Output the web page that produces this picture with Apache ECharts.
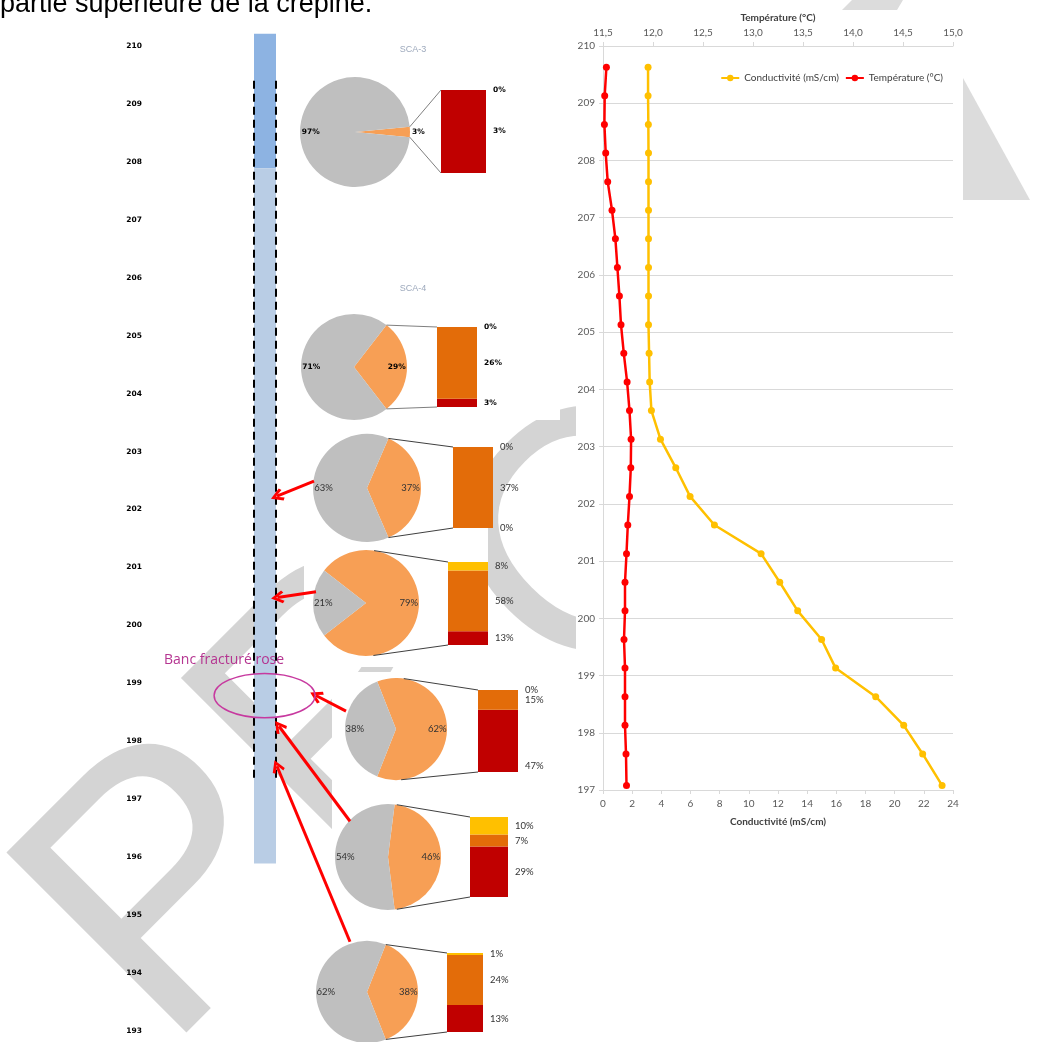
<!DOCTYPE html>
<html>
<head>
<meta charset="utf-8">
<script src="https://cdn.jsdelivr.net/npm/echarts@6/dist/echarts.min.js"></script>
<style>
  html, body { margin: 0; padding: 0; background: #fff; }
  #chart { width: 1051px; height: 1042px; }
</style>
</head>
<body>
<div id="chart"></div>
<script>
// ---- Log profile: elevation (m NGF), conductivity (mS/cm), temperature (°C)
const profileElev = [209.63, 209.13, 208.63, 208.13, 207.63, 207.13, 206.63, 206.13, 205.63,
  205.13, 204.63, 204.13, 203.63, 203.13, 202.63, 202.13, 201.63, 201.13, 200.63, 200.13,
  199.63, 199.13, 198.63, 198.13, 197.63, 197.08];
const conductivity = [3.09, 3.09, 3.11, 3.12, 3.12, 3.12, 3.12, 3.12, 3.12, 3.12, 3.16, 3.2,
  3.32, 3.94, 4.99, 5.97, 7.64, 10.84, 12.12, 13.35, 14.99, 15.95, 18.7, 20.62, 21.92, 23.25];
const temperature = [11.534, 11.517, 11.514, 11.527, 11.547, 11.59, 11.624, 11.644, 11.664,
  11.68, 11.708, 11.741, 11.765, 11.781, 11.778, 11.765, 11.748, 11.735, 11.72, 11.72,
  11.71, 11.72, 11.72, 11.72, 11.73, 11.735];

// ---- Borehole column (elevations)
const tubeElev = [210.21, 207.89, 195.89];     // tube top, end of blank casing, tube bottom
const screenElev = [209.4, 197.35];            // dashed screen limits
const fractureLabel = 'Banc fracturé rose';

// ---- Sample composition: pie share and detail of the orange share
const pieTitles = ['SCA-3', 'SCA-4', '', '', '', '', ''];
const greyShare = [97, 71, 63, 21, 38, 54, 62];
const orangeShare = [3, 29, 37, 79, 62, 46, 38];
const yellowPart = [0, 0, 0, 8, 0, 10, 1];
const orangePart = [0, 26, 37, 58, 15, 7, 24];
const redPart = [3, 3, 0, 13, 47, 29, 13];

// ---- Sample arrows: [x, elevation] start and end on the column
const arrowLinks = [
  [[314, 202.49], [277, 202.23]],
  [[316, 200.58], [277.5, 200.48]],
  [[346, 198.52], [316, 198.79]],
  [[350, 196.62], [279, 198.26]],
  [[350, 194.54], [277, 197.57]]
];

// ---- Page layout (pixels)
const colLeft = 150, colRight = 560, colTop = 46, colBottom = 1031;
const elevMin = 193, elevMax = 210;
const tubeX = [254, 276];
const pieLayout = [
  { cx: 355, cy: 132, r: 55, bar: [441, 90, 45, 83], bold: true },
  { cx: 354, cy: 367, r: 53, bar: [437, 327, 40, 80], bold: true },
  { cx: 367, cy: 488, r: 54, bar: [453, 447, 40, 81] },
  { cx: 366, cy: 603, r: 53, bar: [448, 562, 40, 83] },
  { cx: 396, cy: 729, r: 51, bar: [478, 690, 40, 82] },
  { cx: 388, cy: 857, r: 53, bar: [470, 817, 38, 80] },
  { cx: 367, cy: 992, r: 51, bar: [447, 953, 36, 79] }
];
const titlePos = [[413, 50], [413, 289]];
// white panels behind the pie pictures and the profile plot
const panels = [[290, 36, 270, 384], [304, 420, 184, 247], [332, 672, 228, 370], [576, 0, 384, 832]];
// light watermark fragments around the profile plot
const wmFragments = [
  [[842, 10], [897, 10], [903, 0], [852, 0]],
  [[963, 78], [1030, 200], [963, 200]]
];

const C_GREY = '#BFBFBF', C_SLICE = '#F79F55', C_YEL = '#FFC000', C_ORA = '#E36C09', C_RED = '#C00000';

const grids = [], xAxes = [], yAxes = [], series = [], graphics = [];

// Column grid: x in page pixels, y in elevation
grids.push({ left: colLeft, top: colTop, width: colRight - colLeft, height: colBottom - colTop });
xAxes.push({ type: 'value', gridIndex: 0, min: colLeft, max: colRight, show: false });
yAxes.push({
  type: 'value', gridIndex: 0, min: elevMin, max: elevMax, interval: 1,
  axisLine: { show: false }, axisTick: { show: false }, splitLine: { show: false },
  axisLabel: { color: '#000', fontFamily: 'DejaVu Sans', fontWeight: 'bold', fontSize: 7.5, margin: 8 }
});

// Tube: darker blank casing on top, lighter below
series.push({
  type: 'custom', xAxisIndex: 0, yAxisIndex: 0, silent: true, z: 3,
  data: [[tubeElev[0], tubeElev[1]], [tubeElev[1], tubeElev[2]]],
  renderItem: function (params, api) {
    const a = api.coord([tubeX[0], api.value(0)]);
    const b = api.coord([tubeX[1], api.value(1)]);
    return {
      type: 'rect',
      shape: { x: a[0], y: a[1], width: b[0] - a[0], height: b[1] - a[1] },
      style: { fill: params.dataIndex === 0 ? '#8DB3E2' : '#B9CDE5' }
    };
  }
});
// Screen limits (dashed)
tubeX.forEach(function (x) {
  series.push({
    type: 'line', xAxisIndex: 0, yAxisIndex: 0, silent: true, z: 4, symbol: 'none',
    data: [[x, screenElev[0]], [x, screenElev[1]]],
    lineStyle: { color: '#000', width: 2, type: [8, 5] }
  });
});
// Red arrows
series.push({
  type: 'lines', coordinateSystem: 'cartesian2d', xAxisIndex: 0, yAxisIndex: 0, silent: true, z: 6,
  symbol: ['none', 'path://M5,0 L10,8.5 L8.2,10 L5,4 L1.8,10 L0,8.5 Z'], symbolSize: 13,
  lineStyle: { color: '#FF0000', width: 3, opacity: 1 },
  data: arrowLinks.map(function (l) { return { coords: l }; })
});

// Pies and bar-of-pie columns
pieLayout.forEach(function (p, i) {
  const f = orangeShare[i] / 100;
  const lblFont = p.bold
    ? { fontFamily: 'DejaVu Sans', fontWeight: 'bold', fontSize: 7.5, color: '#000' }
    : { fontFamily: 'Lato', fontSize: 9.5, color: '#333' };
  const pieData = [
    { name: 'o', value: orangeShare[i], itemStyle: { color: C_SLICE } },
    { name: 'g', value: greyShare[i], itemStyle: { color: C_GREY } }
  ];
  series.push({
    type: 'pie', center: [p.cx, p.cy], radius: p.r, startAngle: f * 180, clockwise: true,
    silent: true, z: 3, label: { show: false }, labelLine: { show: false },
    itemStyle: { borderWidth: 0 }, data: pieData
  });
  // label ring: places the percentages at about 3/4 of the radius
  const lblData = pieData.map(function (d, k) {
    const item = { name: d.name, value: d.value, itemStyle: { color: 'rgba(0,0,0,0)' } };
    if (k === 0 && f < 0.1) {
      item.label = { position: 'outside', distanceToLabelLine: 2 };
      item.labelLine = { show: false, length: 0, length2: 0 };
    }
    return item;
  });
  series.push({
    type: 'pie', center: [p.cx, p.cy], radius: [p.r * 0.5, p.r], startAngle: f * 180, clockwise: true,
    silent: true, z: 5, avoidLabelOverlap: false,
    label: Object.assign({ show: true, position: 'inside', formatter: '{c}%' }, lblFont),
    labelLine: { show: false }, itemStyle: { borderWidth: 0 }, data: lblData
  });

  // stacked column for the orange share
  const gi = grids.length;
  const total = yellowPart[i] + orangePart[i] + redPart[i];
  grids.push({ left: p.bar[0], top: p.bar[1], width: p.bar[2], height: p.bar[3] });
  xAxes.push({ type: 'category', gridIndex: gi, data: ['d'], show: false });
  yAxes.push({ type: 'value', gridIndex: gi, min: 0, max: total, show: false });
  const parts = [[redPart, C_RED], [orangePart, C_ORA], [yellowPart, C_YEL]];
  parts.forEach(function (pc, k) {
    const v = pc[0][i];
    const item = { value: v };
    if (i === 0 && k === 1) item.label = { show: false };
    if (i === 4 && k === 0) item.label = { offset: [0, 25] };
    series.push({
      type: 'bar', xAxisIndex: gi, yAxisIndex: gi, stack: 'mix' + i, barWidth: '100%',
      silent: true, z: 3, itemStyle: { color: pc[1] },
      label: Object.assign({ show: true, position: 'right', distance: 7, formatter: '{c}%' }, lblFont),
      data: [item]
    });
  });

  // connector lines from the pie to the column
  function edgePoint(px, py, upper) {
    const dx = px - p.cx, dy = p.cy - py;
    const d = Math.hypot(dx, dy), phi = Math.atan2(dy, dx), t = Math.acos(p.r / d);
    const half = f * Math.PI;
    const ang = upper ? Math.min(half, phi + t) : Math.max(-half, phi - t);
    return [p.cx + p.r * Math.cos(ang), p.cy - p.r * Math.sin(ang)];
  }
  const tl = [p.bar[0], p.bar[1]], bl = [p.bar[0], p.bar[1] + p.bar[3]];
  const e1 = edgePoint(tl[0], tl[1], true), e2 = edgePoint(bl[0], bl[1], false);
  [[e1, tl], [e2, bl]].forEach(function (seg) {
    graphics.push({
      type: 'line', z: 4, silent: true,
      shape: { x1: seg[0][0], y1: seg[0][1], x2: seg[1][0], y2: seg[1][1] },
      style: { stroke: p.bold ? '#7f7f7f' : '#404040', lineWidth: 1 }
    });
  });
});

pieTitles.forEach(function (t, i) {
  if (!t) return;
  graphics.push({
    type: 'text', z: 4, silent: true, x: titlePos[i][0], y: titlePos[i][1],
    style: { text: t, fill: '#9DA9BC', font: '9px "Liberation Sans Narrow", "Liberation Sans"', align: 'center', verticalAlign: 'middle' }
  });
});

// Fractured bed
graphics.push({
  type: 'ellipse', z: 7, silent: true,
  shape: { cx: 264.6, cy: 695.6, rx: 50.5, ry: 22.2 },
  style: { fill: null, stroke: '#C7399F', lineWidth: 1.5 }
});
graphics.push({
  type: 'text', z: 7, silent: true, x: 164, y: 660,
  style: { text: fractureLabel, fill: '#B53591', font: '14px "Open Sans"', align: 'left', verticalAlign: 'middle' }
});

// Caption line from the report page
graphics.push({
  type: 'text', z: 7, silent: true, x: 0, y: 18,
  style: { text: 'partie supérieure de la crépine.', fill: '#000', font: '27px "Liberation Sans"', align: 'left', verticalAlign: 'bottom' }
});

// Background watermark, partly hidden by the white panels
graphics.push({
  type: 'text', z: -10, silent: true, x: -38, y: 851, rotation: Math.PI / 4,
  style: { text: 'PR', fill: '#D4D4D4', font: '370px "Liberation Sans"', align: 'left', verticalAlign: 'top' }
});
graphics.push({
  type: 'text', z: -10, silent: true, x: 608, y: 545, rotation: Math.PI / 4,
  style: { text: 'O', fill: '#D4D4D4', font: '340px "Liberation Sans"', align: 'center', verticalAlign: 'middle' }
});
panels.forEach(function (r) {
  graphics.push({
    type: 'rect', z: -5, silent: true,
    shape: { x: r[0], y: r[1], width: r[2], height: r[3] },
    style: { fill: '#fff' }
  });
});
wmFragments.forEach(function (pts) {
  graphics.push({
    type: 'polygon', z: -4, silent: true,
    shape: { points: pts },
    style: { fill: '#DCDCDC' }
  });
});

// ---- Conductivity / temperature profile
const pg = grids.length;
grids.push({ left: 603, top: 46, width: 350, height: 744, show: false });
const axisFont = { fontFamily: 'Lato', fontSize: 10, color: '#595959' };
const condAxis = xAxes.length;
xAxes.push({
  type: 'value', gridIndex: pg, position: 'bottom', min: 0, max: 24, interval: 2,
  name: 'Conductivité (mS/cm)', nameLocation: 'middle', nameGap: 27,
  nameTextStyle: { fontFamily: 'Lato', fontWeight: 'bold', fontSize: 10, color: '#404040' },
  axisLine: { lineStyle: { color: '#D9D9D9' } },
  axisTick: { show: true, length: 4, lineStyle: { color: '#D9D9D9' } },
  splitLine: { show: false }, axisLabel: Object.assign({ margin: 9 }, axisFont)
});
const tempAxis = xAxes.length;
xAxes.push({
  type: 'value', gridIndex: pg, position: 'top', min: 11.5, max: 15, interval: 0.5,
  name: 'Température (°C)', nameLocation: 'middle', nameGap: 23,
  nameTextStyle: { fontFamily: 'Lato', fontWeight: 'bold', fontSize: 10, color: '#404040' },
  axisLine: { lineStyle: { color: '#D9D9D9' } },
  axisTick: { show: true, length: 4, lineStyle: { color: '#D9D9D9' } },
  splitLine: { show: false },
  axisLabel: Object.assign({ margin: 8, formatter: function (v) { return v.toFixed(1).replace('.', ','); } }, axisFont)
});
const elevAxis = yAxes.length;
yAxes.push({
  type: 'value', gridIndex: pg, min: 197, max: 210, interval: 1,
  axisLine: { show: true, lineStyle: { color: '#D9D9D9' } },
  axisTick: { show: true, length: 4, lineStyle: { color: '#D9D9D9' } },
  splitLine: { show: true, lineStyle: { color: '#D9D9D9' } },
  axisLabel: Object.assign({ margin: 8 }, axisFont)
});
series.push({
  name: 'Conductivité (mS/cm)', type: 'line', xAxisIndex: condAxis, yAxisIndex: elevAxis, z: 5,
  symbol: 'circle', symbolSize: 7, color: '#FFC000', lineStyle: { width: 2.5 },
  data: profileElev.map(function (e, k) { return [conductivity[k], e]; })
});
series.push({
  name: 'Température (°C)', type: 'line', xAxisIndex: tempAxis, yAxisIndex: elevAxis, z: 5,
  symbol: 'circle', symbolSize: 7, color: '#FF0000', lineStyle: { width: 2.5 },
  data: profileElev.map(function (e, k) { return [temperature[k], e]; })
});

const chart = echarts.init(document.getElementById('chart'), null, { renderer: 'canvas' });
chart.setOption({
  animation: false,
  backgroundColor: '#fff',
  grid: grids, xAxis: xAxes, yAxis: yAxes, series: series,
  legend: {
    data: ['Conductivité (mS/cm)', 'Température (°C)'],
    top: 68, right: 103, itemGap: 6, itemWidth: 18, itemHeight: 8,
    textStyle: { fontFamily: 'Lato', fontSize: 10, color: '#404040' }
  },
  graphic: graphics
});
</script>
</body>
</html>
